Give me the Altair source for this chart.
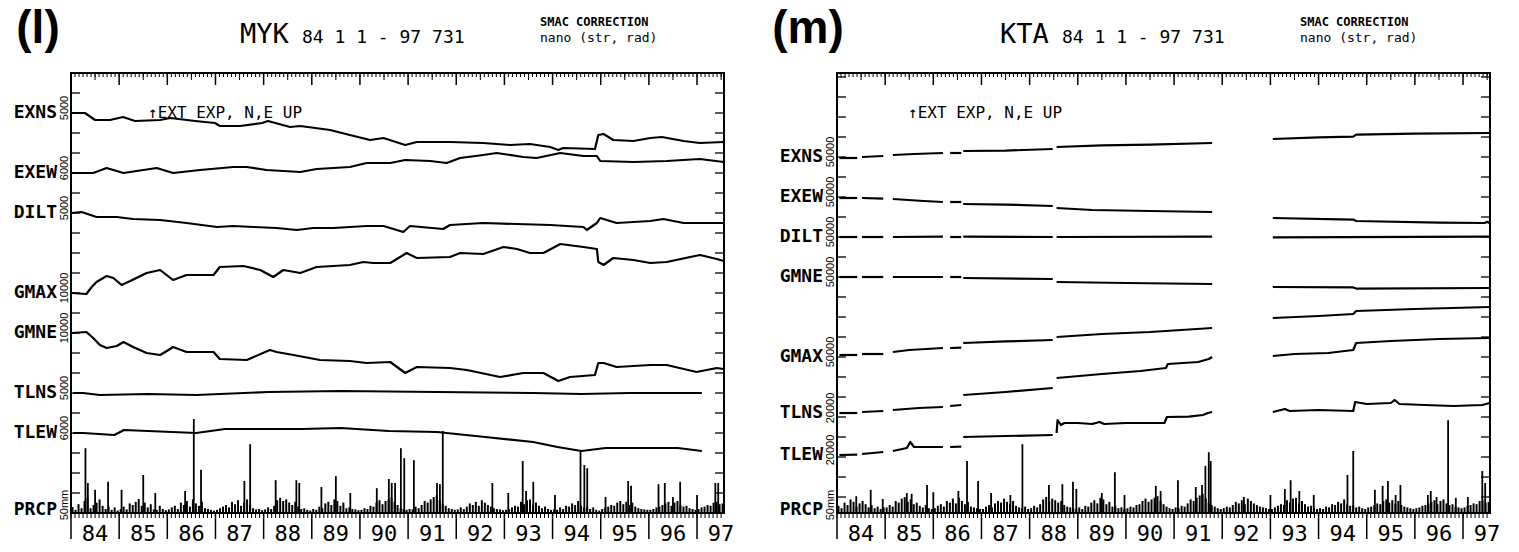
import altair as alt
import pandas as pd

# ---------------- layout constants ----------------
X_MIN, X_MAX = 1984.0, 1997.56          # time span of one panel
Y_MAX = 22                               # vertical divisions
W, H = 653, 440                          # one panel frame in px
GAP = 113                                # px between the two frames
TW = 2 * W + GAP                         # whole plotting width
PX_PER_YR = W / (X_MAX - X_MIN)
X_END = X_MIN + TW / PX_PER_YR
OFF_YR = (W + GAP) / PX_PER_YR           # shift of right panel in year units
MONO = "DejaVu Sans Mono"
SANS = "Liberation Sans, Arial, sans-serif"

YEARS = list(range(1984, 1998))
YEAR_LABELS = ["84", "85", "86", "87", "88", "89", "90", "91", "92", "93", "94", "95", "96", "97"]

# ---------------- MYK (left panel) traces: (year, level in divisions) ----------------
MYK_EXNS = [(1984.02, 20.0), (1984.29, 20.0), (1984.50, 19.65), (1984.81, 19.65), (1985.08, 19.8),
            (1985.33, 19.6), (1985.85, 19.65), (1986.06, 19.75), (1986.58, 19.6), (1986.99, 19.5),
            (1987.09, 19.35), (1987.51, 19.35), (1987.97, 19.5), (1988.09, 19.6), (1988.55, 19.3),
            (1988.76, 19.35), (1989.38, 19.15), (1989.79, 18.9), (1990.21, 18.65), (1990.49, 18.75),
            (1990.94, 18.4), (1991.18, 18.55), (1991.87, 18.55), (1992.56, 18.5), (1993.12, 18.4),
            (1993.53, 18.45), (1993.95, 18.3), (1994.12, 18.15), (1994.22, 18.25), (1994.88, 18.2),
            (1994.95, 18.9), (1995.06, 18.95), (1995.26, 18.65), (1995.68, 18.6), (1996.03, 18.75),
            (1996.27, 18.8), (1996.72, 18.6), (1997.06, 18.5), (1997.55, 18.55)]
MYK_EXEW = [(1984.01, 17.0), (1984.46, 17.0), (1984.74, 17.25), (1985.09, 17.0), (1985.64, 17.2),
            (1985.78, 17.25), (1986.12, 17.0), (1986.68, 17.15), (1987.37, 17.3), (1987.65, 17.3),
            (1988.06, 17.15), (1988.76, 17.05), (1989.10, 17.2), (1989.79, 17.3), (1990.14, 17.5),
            (1990.63, 17.5), (1990.94, 17.65), (1991.46, 17.6), (1991.80, 17.5), (1992.08, 17.75),
            (1992.56, 17.9), (1992.84, 18.0), (1993.39, 17.8), (1993.67, 17.75), (1994.16, 18.0),
            (1994.64, 17.85), (1994.92, 17.85), (1994.99, 17.6), (1995.68, 17.55), (1996.37, 17.6),
            (1997.06, 17.7), (1997.55, 17.55)]
MYK_DILT = [(1984.01, 15.0), (1984.22, 15.05), (1984.53, 14.8), (1984.95, 14.8), (1985.29, 14.7),
            (1985.85, 14.65), (1986.40, 14.5), (1987.03, 14.3), (1987.37, 14.35), (1987.79, 14.3),
            (1988.27, 14.25), (1988.69, 14.15), (1989.03, 14.25), (1989.45, 14.25), (1990.14, 14.35),
            (1990.49, 14.35), (1990.90, 14.05), (1991.04, 14.35), (1991.73, 14.2), (1991.87, 14.4),
            (1992.56, 14.5), (1993.26, 14.45), (1993.95, 14.4), (1994.64, 14.3), (1994.71, 14.15),
            (1994.92, 14.5), (1994.99, 14.75), (1995.33, 14.5), (1996.03, 14.6), (1996.30, 14.7),
            (1996.72, 14.5), (1997.55, 14.5)]
MYK_GMAX = [(1984.01, 11.0), (1984.32, 10.95), (1984.43, 11.3), (1984.53, 11.55), (1984.74, 11.85),
            (1984.88, 11.75), (1985.05, 11.4), (1985.23, 11.6), (1985.57, 12.0), (1985.85, 12.15),
            (1986.12, 11.65), (1986.40, 11.9), (1986.96, 11.9), (1987.09, 12.3), (1987.58, 12.35),
            (1987.93, 12.15), (1988.20, 11.8), (1988.41, 12.15), (1988.76, 12.0), (1989.10, 12.3),
            (1989.79, 12.4), (1990.07, 12.55), (1990.28, 12.5), (1990.63, 12.5), (1990.97, 13.0),
            (1991.18, 12.75), (1991.87, 12.8), (1992.08, 13.0), (1992.56, 12.95), (1992.98, 13.3),
            (1993.26, 13.2), (1993.53, 13.0), (1993.81, 13.0), (1994.16, 13.45), (1994.64, 13.3),
            (1994.92, 13.2), (1994.95, 12.55), (1995.06, 12.4), (1995.26, 12.75), (1995.68, 12.65),
            (1996.03, 12.5), (1996.37, 12.55), (1997.06, 12.9), (1997.41, 12.7), (1997.55, 12.6)]
MYK_GMNE = [(1984.01, 9.0), (1984.32, 9.05), (1984.46, 8.75), (1984.60, 8.4), (1984.74, 8.25),
            (1984.95, 8.35), (1985.09, 8.55), (1985.29, 8.3), (1985.57, 8.0), (1985.85, 7.9),
            (1985.99, 8.1), (1986.12, 8.3), (1986.40, 8.05), (1986.96, 8.05), (1987.09, 7.7),
            (1987.65, 7.65), (1988.13, 8.15), (1988.27, 8.05), (1988.62, 7.9), (1989.17, 7.65),
            (1989.79, 7.6), (1990.14, 7.5), (1990.63, 7.55), (1990.94, 7.0), (1991.18, 7.3),
            (1991.87, 7.25), (1992.22, 7.15), (1992.91, 6.8), (1993.39, 7.0), (1993.81, 7.0),
            (1994.12, 6.6), (1994.36, 6.8), (1994.88, 6.9), (1994.95, 7.5), (1995.06, 7.5),
            (1995.33, 7.3), (1996.03, 7.4), (1996.37, 7.4), (1996.99, 7.05), (1997.41, 7.25),
            (1997.55, 7.2)]
MYK_TLNS = [(1984.05, 6.0), (1984.25, 6.0), (1984.60, 5.9), (1985.60, 5.95), (1986.60, 5.9),
            (1988.10, 6.05), (1989.60, 6.1), (1991.60, 6.05), (1993.60, 6.0), (1994.60, 5.95),
            (1995.60, 6.0), (1997.10, 6.0)]
MYK_TLEW = [(1984.05, 4.0), (1984.25, 4.0), (1984.90, 3.9), (1985.10, 4.15), (1986.60, 4.0),
            (1987.20, 4.2), (1988.80, 4.2), (1989.60, 4.25), (1990.60, 4.1), (1991.60, 4.05),
            (1992.60, 3.8), (1993.60, 3.55), (1994.10, 3.3), (1994.60, 3.1), (1995.10, 3.25),
            (1995.60, 3.25), (1996.60, 3.25), (1997.10, 3.1)]

# ---------------- KTA (right panel) traces: segments of (year, level) ----------------
KTA_EXNS = [[(1984.05, 17.75), (1984.42, 17.75)], [(1984.52, 17.8), (1984.96, 17.85)],
            [(1985.16, 17.9), (1985.6, 17.95), (1986.20, 18.0)], [(1986.35, 18.0), (1986.58, 18.0)],
            [(1986.62, 18.1), (1987.5, 18.12), (1988.48, 18.2)],
            [(1988.56, 18.3), (1989.5, 18.38), (1990.5, 18.42), (1991.79, 18.5)],
            [(1993.05, 18.7), (1994.0, 18.78), (1994.72, 18.82), (1994.78, 18.92), (1996.0, 18.97), (1997.55, 19.0)]]
KTA_EXEW = [[(1984.05, 15.75), (1984.42, 15.75)], [(1984.52, 15.75), (1984.96, 15.72)],
            [(1985.16, 15.7), (1985.8, 15.6), (1986.20, 15.55)], [(1986.35, 15.55), (1986.58, 15.55)],
            [(1986.62, 15.45), (1987.5, 15.42), (1988.48, 15.35)],
            [(1988.56, 15.25), (1989.3, 15.15), (1990.5, 15.1), (1991.79, 15.05)],
            [(1993.05, 14.75), (1994.72, 14.67), (1994.78, 14.6), (1996.5, 14.52), (1997.45, 14.5),
             (1997.5, 14.56), (1997.55, 14.5)]]
KTA_DILT = [[(1984.05, 13.8), (1984.42, 13.8)], [(1984.52, 13.8), (1984.96, 13.8)],
            [(1985.16, 13.8), (1986.20, 13.82)], [(1986.35, 13.8), (1986.58, 13.8)],
            [(1986.62, 13.82), (1988.48, 13.8)], [(1988.56, 13.8), (1991.79, 13.82)],
            [(1993.05, 13.78), (1997.55, 13.82)]]
KTA_GMNE = [[(1984.05, 11.8), (1984.42, 11.8)], [(1984.52, 11.8), (1984.96, 11.8)],
            [(1985.16, 11.8), (1986.20, 11.8)], [(1986.35, 11.8), (1986.58, 11.8)],
            [(1986.62, 11.75), (1988.48, 11.7)], [(1988.56, 11.55), (1990.0, 11.5), (1991.79, 11.45)],
            [(1993.05, 11.3), (1994.72, 11.28), (1994.78, 11.22), (1997.55, 11.25)]]
KTA_GMAX = [[(1984.05, 7.9), (1984.42, 7.9)], [(1984.52, 7.95), (1984.96, 7.95)],
            [(1985.16, 8.05), (1985.5, 8.15), (1986.20, 8.25)], [(1986.35, 8.25), (1986.58, 8.27)],
            [(1986.62, 8.5), (1987.5, 8.58), (1988.48, 8.65)],
            [(1988.56, 8.8), (1989.5, 8.95), (1990.5, 9.05), (1991.79, 9.25)],
            [(1993.05, 9.75), (1994.0, 9.85), (1994.72, 9.95), (1994.78, 10.1), (1996.0, 10.2), (1997.55, 10.3)]]
KTA_TLNS = [[(1984.05, 5.0), (1984.42, 5.0)], [(1984.52, 5.05), (1984.96, 5.1)],
            [(1985.16, 5.15), (1985.7, 5.25), (1986.20, 5.3)], [(1986.35, 5.35), (1986.58, 5.4)],
            [(1986.62, 5.9), (1987.5, 6.05), (1988.48, 6.25)],
            [(1988.56, 6.75), (1989.5, 6.95), (1990.3, 7.1), (1990.83, 7.25), (1990.87, 7.45),
             (1991.5, 7.55), (1991.72, 7.7), (1991.79, 7.8)],
            [(1993.05, 7.85), (1993.5, 7.95), (1994.2, 8.0), (1994.72, 8.15), (1994.78, 8.5),
             (1995.5, 8.6), (1996.5, 8.7), (1997.55, 8.75)]]
KTA_TLEW = [[(1984.05, 2.9), (1984.42, 2.92)], [(1984.52, 2.95), (1984.96, 3.05)],
            [(1985.16, 3.1), (1985.45, 3.25), (1985.52, 3.55), (1985.6, 3.3), (1986.20, 3.3)],
            [(1986.35, 3.3), (1986.58, 3.32)],
            [(1986.62, 3.8), (1987.5, 3.85), (1988.48, 3.9)],
            [(1988.56, 4.0), (1988.58, 4.65), (1988.65, 4.4), (1988.72, 4.5), (1989.0, 4.5),
             (1989.3, 4.45), (1989.45, 4.55), (1989.55, 4.45), (1990.0, 4.5), (1990.8, 4.5),
             (1990.85, 4.8), (1991.3, 4.82), (1991.6, 4.9), (1991.7, 5.0), (1991.79, 5.05)],
            [(1993.05, 5.05), (1993.3, 5.2), (1993.4, 5.1), (1994.0, 5.15), (1994.72, 5.1),
             (1994.76, 5.55), (1995.0, 5.45), (1995.5, 5.5), (1995.58, 5.65), (1995.68, 5.45),
             (1996.2, 5.4), (1996.8, 5.35), (1997.4, 5.4), (1997.55, 5.5)]]

# ---------------- precipitation (mm); 50 mm = one division ----------------
MM_PER_DIV = 50.0
# background daily-rain clutter, 16 samples per year starting 1984
MYK_PRCP_BG = [15, 8, 22, 12, 30, 38, 12, 20, 26, 34, 18, 10, 16, 8, 14, 6,
               10, 16, 9, 24, 20, 28, 35, 18, 26, 14, 22, 9, 8, 18, 10, 7,
               9, 14, 18, 10, 26, 20, 30, 16, 34, 24, 18, 28, 12, 10, 8, 6,
               8, 12, 16, 20, 14, 28, 22, 32, 18, 26, 34, 20, 12, 9, 10, 7,
               9, 14, 10, 18, 32, 38, 30, 34, 26, 20, 28, 16, 10, 12, 8, 6,
               10, 8, 16, 12, 24, 28, 20, 34, 30, 18, 26, 12, 14, 10, 9, 7,
               8, 12, 10, 18, 16, 26, 32, 22, 30, 34, 38, 28, 20, 12, 10, 8,
               10, 9, 16, 12, 20, 30, 26, 34, 40, 44, 32, 22, 18, 12, 10, 8,
               9, 14, 10, 16, 24, 20, 28, 18, 32, 26, 20, 16, 12, 10, 9, 7,
               8, 10, 14, 18, 16, 28, 22, 32, 34, 20, 26, 18, 12, 16, 10, 8,
               9, 8, 14, 10, 18, 16, 24, 20, 30, 18, 14, 16, 10, 14, 8, 6,
               10, 14, 16, 20, 18, 26, 30, 22, 28, 20, 26, 16, 12, 10, 9, 8,
               8, 10, 14, 16, 20, 24, 28, 18, 26, 30, 20, 16, 18, 12, 10, 8,
               10, 14, 16, 20, 18, 26, 28, 22, 24]
KTA_PRCP_BG = [18, 12, 26, 20, 34, 28, 16, 24, 30, 22, 14, 20, 12, 16, 10, 14,
               14, 20, 16, 30, 26, 36, 40, 28, 34, 22, 26, 18, 14, 20, 12, 10,
               12, 18, 22, 16, 30, 26, 36, 24, 38, 30, 22, 28, 16, 14, 12, 10,
               10, 16, 20, 14, 24, 30, 26, 36, 28, 22, 30, 18, 14, 12, 16, 10,
               12, 18, 14, 22, 34, 40, 30, 36, 32, 26, 30, 20, 16, 14, 12, 10,
               14, 10, 18, 16, 26, 32, 24, 38, 34, 22, 28, 16, 18, 12, 14, 10,
               12, 16, 14, 20, 22, 30, 36, 28, 34, 38, 42, 30, 22, 16, 12, 10,
               14, 12, 18, 16, 24, 34, 30, 38, 44, 48, 36, 26, 20, 16, 12, 10,
               12, 16, 14, 20, 28, 24, 32, 22, 36, 30, 24, 20, 16, 14, 12, 10,
               10, 14, 18, 22, 20, 32, 26, 36, 38, 24, 30, 22, 16, 18, 14, 10,
               12, 10, 16, 14, 22, 20, 28, 24, 34, 22, 18, 20, 14, 16, 12, 10,
               14, 16, 20, 24, 22, 30, 34, 26, 32, 24, 30, 20, 16, 14, 12, 10,
               12, 14, 18, 20, 24, 28, 32, 22, 30, 34, 24, 20, 22, 16, 14, 12,
               14, 18, 20, 24, 22, 30, 32, 26, 28]
MYK_PRCP_PEAKS = [(1984.30, 162), (1984.35, 75), (1984.50, 58), (1984.77, 78), (1985.05, 58),
                  (1985.50, 95), (1985.75, 50), (1986.37, 55), (1986.55, 235), (1986.70, 108),
                  (1987.60, 80), (1987.72, 172), (1988.25, 82), (1988.68, 82), (1988.74, 75),
                  (1989.20, 65), (1989.50, 92), (1989.80, 50), (1990.35, 62), (1990.60, 85),
                  (1990.66, 75), (1990.73, 75), (1990.85, 162), (1990.92, 137), (1991.12, 132),
                  (1991.60, 75), (1991.66, 72), (1991.72, 205), (1992.75, 75), (1993.08, 50),
                  (1993.38, 130), (1993.45, 55), (1993.60, 78), (1994.05, 45), (1994.58, 155),
                  (1994.66, 120), (1994.72, 112), (1995.10, 40), (1995.57, 80), (1995.63, 68),
                  (1996.20, 72), (1996.33, 75), (1996.50, 40), (1996.65, 78), (1997.00, 45),
                  (1997.38, 75), (1997.44, 75)]
KTA_PRCP_PEAKS = [(1984.40, 42), (1984.70, 58), (1984.95, 35), (1985.45, 50), (1985.55, 48),
                  (1985.87, 70), (1986.00, 52), (1986.52, 55), (1986.70, 130), (1986.93, 80),
                  (1987.20, 50), (1987.60, 45), (1987.85, 172), (1988.40, 70), (1988.68, 72),
                  (1988.90, 78), (1988.97, 60), (1989.50, 50), (1989.77, 102), (1989.97, 45),
                  (1990.62, 68), (1990.72, 55), (1991.08, 82), (1991.45, 65), (1991.58, 70),
                  (1991.65, 118), (1991.72, 152), (1991.76, 130), (1992.45, 40), (1993.00, 45),
                  (1993.30, 60), (1993.42, 82), (1993.60, 55), (1993.90, 45), (1994.60, 95),
                  (1994.72, 155), (1995.17, 58), (1995.33, 68), (1995.44, 80), (1995.60, 45),
                  (1995.70, 70), (1996.27, 45), (1996.33, 55), (1996.45, 40), (1996.69, 232),
                  (1996.85, 38), (1997.10, 40), (1997.40, 105), (1997.46, 75)]

# ---------------- labels ----------------
MYK_NAMES = ["EXNS", "EXEW", "DILT", "GMAX", "GMNE", "TLNS", "TLEW", "PRCP"]
MYK_LEVELS = [20.0, 17.0, 15.0, 11.0, 9.0, 6.0, 4.0, 0.15]
MYK_SCALES = ["5000", "6000", "5000", "10000", "10000", "5000", "6000", "50mm"]
KTA_NAMES = ["EXNS", "EXEW", "DILT", "GMNE", "GMAX", "TLNS", "TLEW", "PRCP"]
KTA_LEVELS = [17.8, 15.8, 13.8, 11.8, 7.8, 5.0, 2.9, 0.15]
KTA_SCALES = ["50000", "50000", "50000", "50000", "50000", "20000", "20000", "50mm"]
MYK_YTICKS = [float(k) for k in range(1, 22)]
KTA_YTICKS = [k + 0.8 for k in range(0, 22)]


# ---------------- helpers ----------------
def xs(field="px"):
    return alt.X(f"{field}:Q", scale=alt.Scale(domain=[X_MIN, X_END], nice=False, zero=False), axis=None)


def ys(field="level"):
    return alt.Y(f"{field}:Q", scale=alt.Scale(domain=[0, Y_MAX], nice=False, zero=False), axis=None)


def trace_frame(named_segments, off):
    rows = []
    for name, segments in named_segments:
        for s, seg in enumerate(segments):
            for i, (yr, lv) in enumerate(seg):
                rows.append({"key": f"{name}-{s}", "i": i, "px": yr + off, "level": lv})
    return pd.DataFrame(rows)


def prcp_frame(bg, peaks, off):
    rows = []
    for i, mm in enumerate(bg):
        rows.append({"px": 1984 + (i + 0.5) / 16.0 + off, "base": 0.0, "top": mm / MM_PER_DIV, "w": "bg"})
    for yr, mm in peaks:
        rows.append({"px": yr + off, "base": 0.0, "top": mm / MM_PER_DIV, "w": "pk"})
    return pd.DataFrame(rows)


MONTHS = [y + m / 12.0 for y in YEARS for m in range(12) if y + m / 12.0 <= X_MAX]
HALVES = [y + 0.5 for y in YEARS if y + 0.5 <= X_MAX]


def panel(trace_df, prcp_df, names, levels, scales, yticks, tag, tag_x, station, st_x, txt_dx, off):
    px0 = off * PX_PER_YR          # frame left edge in px
    layers = []
    shift = lambda vals: pd.DataFrame({"px": [v + off for v in vals]})
    month_df, half_df, year_df = shift(MONTHS), shift(HALVES), shift(YEARS)
    lab_df = pd.DataFrame({"px": [y + 0.5 + off for y in YEARS], "lab": YEAR_LABELS})
    # frame
    frame_df = pd.DataFrame({"px": [X_MIN + off], "px2": [X_MAX + off], "level": [0.0], "level2": [float(Y_MAX)]})
    layers.append(alt.Chart(frame_df).mark_rect(fillOpacity=0, stroke="black", strokeWidth=2).encode(
        x=xs(), x2="px2:Q", y=ys(), y2="level2:Q"))
    # top ruler
    layers.append(alt.Chart(month_df).mark_rule(color="black", strokeWidth=1).encode(
        x=xs(), y=alt.value(0), y2=alt.value(4)))
    layers.append(alt.Chart(half_df).mark_rule(color="black", strokeWidth=1).encode(
        x=xs(), y=alt.value(0), y2=alt.value(7)))
    layers.append(alt.Chart(year_df).mark_rule(color="black", strokeWidth=1.5).encode(
        x=xs(), y=alt.value(0), y2=alt.value(12)))
    # bottom ruler
    layers.append(alt.Chart(month_df).mark_rule(color="black", strokeWidth=1).encode(
        x=xs(), y=alt.value(H), y2=alt.value(H + 5)))
    layers.append(alt.Chart(year_df).mark_rule(color="black", strokeWidth=1.5).encode(
        x=xs(), y=alt.value(H), y2=alt.value(H + 26)))
    layers.append(alt.Chart(lab_df).mark_text(font=MONO, fontSize=22, baseline="middle").encode(
        x=xs(), y=alt.value(H + 21), text="lab:N"))
    # side ticks
    yt_df = pd.DataFrame({"level": yticks})
    layers.append(alt.Chart(yt_df).mark_rule(color="black", strokeWidth=1.3).encode(
        y=ys(), x=alt.value(px0), x2=alt.value(px0 + 9)))
    layers.append(alt.Chart(yt_df).mark_rule(color="black", strokeWidth=1.3).encode(
        y=ys(), x=alt.value(px0 + W - 9), x2=alt.value(px0 + W)))
    # precipitation
    layers.append(alt.Chart(prcp_df[prcp_df.w == "bg"]).mark_rule(color="black", strokeWidth=2).encode(
        x=xs(), y=ys("base"), y2="top:Q"))
    layers.append(alt.Chart(prcp_df[prcp_df.w == "pk"]).mark_rule(color="black", strokeWidth=1.8).encode(
        x=xs(), y=ys("base"), y2="top:Q"))
    # traces
    layers.append(alt.Chart(trace_df).mark_line(color="black", strokeWidth=2.2, strokeJoin="round").encode(
        x=xs(), y=ys(), detail="key:N", order="i:Q"))
    # channel labels
    ldf = pd.DataFrame({"name": names, "level": levels, "scale": scales})
    layers.append(alt.Chart(ldf).mark_text(font=MONO, fontSize=18, fontWeight="bold", align="right",
                                           baseline="middle").encode(
        x=alt.value(px0 - 14), y=ys(), text="name:N"))
    layers.append(alt.Chart(ldf).mark_text(font=SANS, fontSize=11, angle=270, align="center",
                                           baseline="bottom", dx=5).encode(
        x=alt.value(px0 - 1), y=ys(), text="scale:N"))
    # titles
    one = pd.DataFrame({"a": [0]})
    layers.append(alt.Chart(one).mark_text(text=tag, font=SANS, fontSize=46, fontWeight="bold",
                                           align="center", baseline="alphabetic").encode(
        x=alt.value(px0 + tag_x), y=alt.value(-30)))
    layers.append(alt.Chart(one).mark_text(text=station, font=MONO, fontSize=27, align="left",
                                           baseline="alphabetic").encode(
        x=alt.value(px0 + st_x), y=alt.value(-30)))
    layers.append(alt.Chart(one).mark_text(text="84 1 1 - 97 731", font=MONO, fontSize=18, align="left",
                                           baseline="alphabetic").encode(
        x=alt.value(px0 + st_x + 62), y=alt.value(-30)))
    layers.append(alt.Chart(one).mark_text(text="SMAC CORRECTION", font=MONO, fontSize=12, fontWeight="bold",
                                           align="left", baseline="middle").encode(
        x=alt.value(px0 + 469 + txt_dx), y=alt.value(-51)))
    layers.append(alt.Chart(one).mark_text(text="nano (str, rad)", font=MONO, fontSize=13, align="left",
                                           baseline="middle").encode(
        x=alt.value(px0 + 469 + txt_dx), y=alt.value(-35)))
    layers.append(alt.Chart(one).mark_text(text="\u2191EXT EXP, N,E UP", font=MONO, fontSize=16, align="left",
                                           baseline="middle").encode(
        x=alt.value(px0 + 77 + txt_dx), y=alt.value(40)))
    return layers


# ---------------- assemble ----------------
myk_df = trace_frame([("EXNS", [MYK_EXNS]), ("EXEW", [MYK_EXEW]), ("DILT", [MYK_DILT]), ("GMAX", [MYK_GMAX]),
                      ("GMNE", [MYK_GMNE]), ("TLNS", [MYK_TLNS]), ("TLEW", [MYK_TLEW])], 0.0)
kta_df = trace_frame([("EXNS", KTA_EXNS), ("EXEW", KTA_EXEW), ("DILT", KTA_DILT), ("GMNE", KTA_GMNE),
                      ("GMAX", KTA_GMAX), ("TLNS", KTA_TLNS), ("TLEW", KTA_TLEW)], OFF_YR)

left = panel(myk_df, prcp_frame(MYK_PRCP_BG, MYK_PRCP_PEAKS, 0.0),
             MYK_NAMES, MYK_LEVELS, MYK_SCALES, MYK_YTICKS, "(l)", -33, "MYK", 169, 0, 0.0)
right = panel(kta_df, prcp_frame(KTA_PRCP_BG, KTA_PRCP_PEAKS, OFF_YR),
              KTA_NAMES, KTA_LEVELS, KTA_SCALES, KTA_YTICKS, "(m)", -29, "KTA", 163, -6, OFF_YR)

chart = alt.layer(*(left + right)).properties(
    width=TW, height=H,
    autosize=alt.AutoSizeParams(type="none"),
    padding={"left": 71, "top": 73, "right": 29, "bottom": 39},
).configure_view(stroke=None)

chart.save("out.html", embed_options={"renderer": "svg", "actions": False})
